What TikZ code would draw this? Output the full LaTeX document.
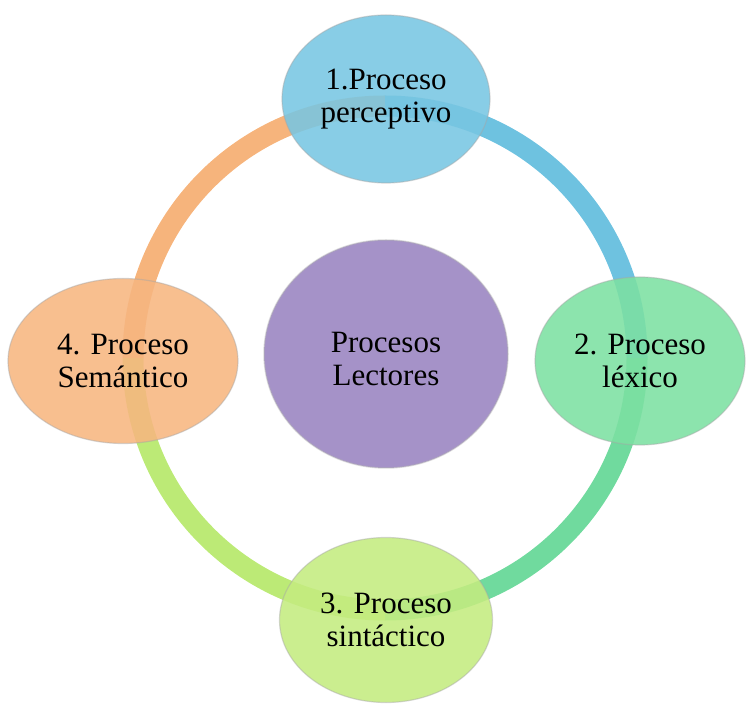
\documentclass[tikz,border=0pt]{standalone}
\usepackage{fontspec}
\setmainfont{Liberation Serif}
\usetikzlibrary{shapes.geometric}
\definecolor{cblue}{HTML}{78C6E2}
\definecolor{rblue}{HTML}{6EC2E0}
\definecolor{cgreen}{HTML}{7CE0A2}
\definecolor{rgreen}{HTML}{70DA9E}
\definecolor{cyel}{HTML}{C4EC80}
\definecolor{ryel}{HTML}{BCEA76}
\definecolor{corange}{HTML}{F7B680}
\definecolor{rorange}{HTML}{F6B47C}
\definecolor{cpurple}{HTML}{A592C8}
\tikzset{
  ringseg/.style={line width=21pt, line cap=butt},
  sat/.style={ellipse, fill opacity=0.88, text opacity=1, draw=black!35, draw opacity=0.45, line width=1.2pt,
    align=center, font=\fontsize{31}{33}\selectfont, inner sep=0pt},
  hub/.style={ellipse, draw=black!30, draw opacity=0.45, line width=1.5pt, fill=cpurple,
    minimum width=244pt, minimum height=228pt, inner sep=0pt}
}
\begin{document}
\begin{tikzpicture}[x=1pt,y=1pt]
\useasboundingbox (0,0) rectangle (746,704);
\coordinate (rc) at (385,346);
\coordinate (rtop) at (385,598);
\coordinate (rright) at (637,346);
\coordinate (rbot) at (385,94);
\coordinate (rleft) at (133,346);
% ring
\draw[ringseg, rblue] (rtop) arc[start angle=90, end angle=0, radius=252];
\draw[ringseg, rgreen] (rright) arc[start angle=0, end angle=-90, radius=252];
\draw[ringseg, ryel] (rbot) arc[start angle=270, end angle=180, radius=252];
\draw[ringseg, rorange] (rleft) arc[start angle=180, end angle=90, radius=252];
% hub
\node[hub] (hub) at (386,350) {};
\node[align=center, font=\fontsize{31}{33}\selectfont] (hubtext) at (386,345) {Procesos\\Lectores};
% satellites
\node[sat, fill=cblue, minimum width=208pt, minimum height=168pt] (n1) at (386,605) {1.Proceso\\perceptivo};
\node[sat, fill=cgreen, minimum width=210pt, minimum height=168pt] (n2) at (640,343) {2. Proceso\\léxico};
\node[sat, fill=cyel, minimum width=213pt, minimum height=165pt] (n3) at (386,84) {3. Proceso\\sintáctico};
\node[sat, fill=corange, minimum width=230pt, minimum height=165pt] (n4) at (123,343) {4. Proceso\\Semántico};
\end{tikzpicture}
\end{document}
